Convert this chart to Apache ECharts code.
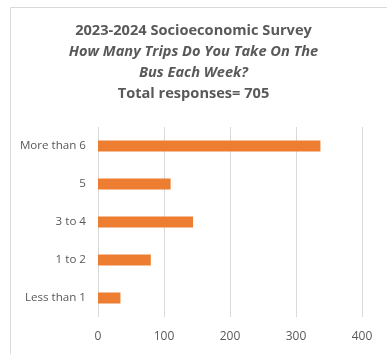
<!DOCTYPE html>
<html>
<head>
<meta charset="utf-8">
<script src="https://cdn.jsdelivr.net/npm/echarts@6/dist/echarts.min.js"></script>
<style>
  html, body { margin: 0; padding: 0; background: #fff; }
  #chart { width: 387px; height: 354px; }
</style>
</head>
<body>
<div id="chart"></div>
<script>
// Weekly bus trips per respondent, bottom-to-top order on the category axis
const categories = ['Less than 1', '1 to 2', '3 to 4', '5', 'More than 6'];
const responses = [34, 80, 144, 110, 337];
const xTicks = [0, 100, 200, 300, 400];

const textColor = '#595959';
const font = '"Open Sans", "Liberation Sans", sans-serif';

const chart = echarts.init(document.getElementById('chart'), null, { renderer: 'canvas' });

const titleLine = (text, top, italic) => ({
  type: 'text',
  left: 'center', top: top,
  style: {
    text: text,
    font: (italic ? 'italic ' : '') + 'bold 14.6px ' + font,
    fill: textColor
  }
});

chart.setOption({
  animation: false,
  backgroundColor: '#ffffff',
  graphic: [
    {
      type: 'rect',
      left: 8, top: 5,
      shape: { width: 400, height: 400 },
      style: { fill: 'none', stroke: '#d9d9d9', lineWidth: 1 },
      silent: true
    },
    titleLine('2023-2024 Socioeconomic Survey', 23, false),
    titleLine('How Many Trips Do You Take On The', 44, true),
    titleLine('Bus Each Week?', 65, true),
    titleLine('Total responses= 705', 86, false)
  ],
  grid: { left: 98, right: 25, top: 127, bottom: 37, containLabel: false },
  xAxis: {
    type: 'value',
    min: xTicks[0],
    max: xTicks[xTicks.length - 1],
    interval: 100,
    axisLine: { show: false },
    axisTick: { show: false },
    splitLine: { show: true, lineStyle: { color: '#d9d9d9', width: 1 } },
    axisLabel: { color: textColor, fontFamily: font, fontSize: 12, margin: 14 }
  },
  yAxis: {
    type: 'category',
    data: categories,
    axisLine: { show: false },
    axisTick: { show: false },
    axisLabel: { color: textColor, fontFamily: font, fontSize: 11.6, margin: 12 }
  },
  series: [{
    type: 'bar',
    data: responses,
    barWidth: 11,
    itemStyle: { color: '#ed7d31' }
  }]
});
</script>
</body>
</html>
